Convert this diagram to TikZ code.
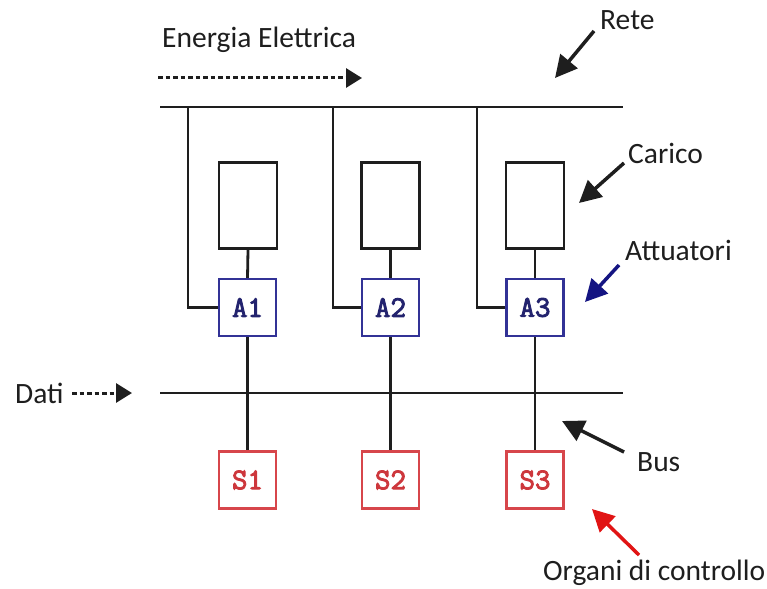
\documentclass[tikz,border=0pt]{standalone}
\usepackage{fontspec}
\setmainfont{Carlito}
\newfontfamily\courb[FakeBold=3]{Latin Modern Mono}
\usetikzlibrary{arrows.meta}
\definecolor{navyc}{RGB}{50,50,150}
\definecolor{navyt}{RGB}{35,35,110}
\definecolor{navya}{RGB}{20,20,130}
\definecolor{redc}{RGB}{215,70,75}
\definecolor{redt}{RGB}{205,55,60}
\definecolor{reda}{RGB}{225,20,20}
\definecolor{ink}{RGB}{30,30,30}
\begin{document}
\begin{tikzpicture}[x=1pt,y=-1pt,
 wire/.style={line width=2.8pt, draw=ink},
 load/.style={draw=ink, line width=2.8pt, minimum width=58pt, minimum height=86pt, inner sep=0pt},
 act/.style={draw=navyc, line width=2.4pt, minimum size=57pt, inner sep=0pt, text=navyt, font=\courb\fontsize{30}{30}\selectfont},
 ctl/.style={draw=redc, line width=2.4pt, minimum size=57pt, inner sep=0pt, text=redt, font=\courb\fontsize{30}{30}\selectfont},
 lbl/.style={font=\fontsize{29.5}{31}\selectfont, text=ink, inner sep=0pt, anchor=west},
 pointer/.style={-{Triangle[length=22pt,width=22pt]}, line width=3.5pt},
 flow/.style={dash pattern=on 4.5pt off 3pt, line width=3pt, -{Triangle[length=16pt,width=19pt]}, draw=ink}
]
\useasboundingbox (0,0) rectangle (767,588);

% rails
\coordinate (r0) at (160,107);
\coordinate (r1) at (623,107);
\coordinate (b0) at (160,393);
\coordinate (b1) at (623,393);
\draw[wire] (r0) -- (r1);
\draw[wire] (b0) -- (b1);

% loads
\node[load] (L1) at (248,205.5) {};
\node[load] (L2) at (390.5,205.5) {};
\node[load] (L3) at (535,205.5) {};

% actuators
\node[act] (A1) at (247.5,307.5) {A1};
\node[act] (A2) at (390.5,307.5) {A2};
\node[act] (A3) at (535,307.5) {A3};

% controllers
\node[ctl] (S1) at (247.5,480) {S1};
\node[ctl] (S2) at (390.5,480) {S2};
\node[ctl] (S3) at (535,480) {S3};

% feed wires
\coordinate (f1) at (188,107);
\coordinate (f2) at (333,107);
\coordinate (f3) at (477,107);
\draw[wire] (f1) |- (A1.west);
\draw[wire] (f2) |- (A2.west);
\draw[wire] (f3) |- (A3.west);

\foreach \i in {1,2,3}{
  \draw[wire] (L\i.south) -- (A\i.north);
  \draw[wire] (A\i.south) -- (S\i.north);
}

% labels
\node[lbl] (tE) at (162,40) {Energia Elettrica};
\coordinate (e0) at (158,78);
\coordinate (e1) at (362,78);
\draw[flow] (e0) -- (e1);

\node[lbl] (tD) at (15,393) {Dati};
\coordinate (d0) at (72,393);
\coordinate (d1) at (132,393);
\draw[flow] (d0) -- (d1);

\node[lbl] (tR) at (600,20) {Rete};
\coordinate (ra) at (594,31);
\coordinate (rb) at (555,78);
\draw[pointer, draw=ink, fill=ink] (ra) -- (rb);

\node[lbl] (tC) at (628,153) {Carico};
\coordinate (ca) at (624,163);
\coordinate (cb) at (579,203);
\draw[pointer, draw=ink, fill=ink] (ca) -- (cb);

\node[lbl] (tA) at (625,250) {Attuatori};
\coordinate (aa) at (619,265);
\coordinate (ab) at (585,302);
\draw[pointer, draw=navya, fill=navya] (aa) -- (ab);

\node[lbl] (tB) at (637,462) {Bus};
\coordinate (ba) at (624,452);
\coordinate (bb) at (562,421);
\draw[pointer, draw=ink, fill=ink] (ba) -- (bb);

\node[lbl] (tO) at (543,573) {Organi di controllo};
\coordinate (oa) at (639,555);
\coordinate (ob) at (592,509);
\draw[pointer, draw=reda, fill=reda] (oa) -- (ob);
\end{tikzpicture}
\end{document}
